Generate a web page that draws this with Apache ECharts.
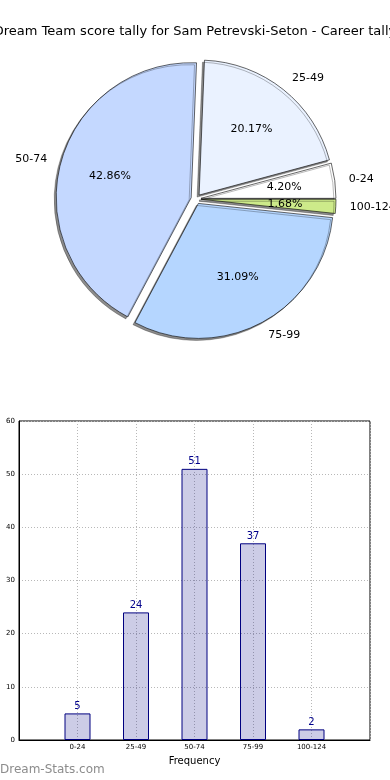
<!DOCTYPE html>
<html>
<head>
<meta charset="utf-8">
<script src="https://cdn.jsdelivr.net/npm/echarts@6/dist/echarts.min.js"></script>
<style>
html,body{margin:0;padding:0;background:#fff;}
#c{width:390px;height:780px;}
</style>
</head>
<body>
<div id="c"></div>
<script>
var titleText = 'Dream Team score tally for Sam Petrevski-Seton - Career tally';
var categories = ['0-24', '25-49', '50-74', '75-99', '100-124'];
var counts = [5, 24, 51, 37, 2];
var sliceColors = ['#ffffff', '#eaf2ff', '#c4d8ff', '#b5d6ff', '#cdea8a'];
var yTicks = [0, 10, 20, 30, 40, 50, 60];
var xAxisName = 'Frequency';
var watermark = 'Dream-Stats.com';

var total = counts.reduce(function(a, b){ return a + b; }, 0);
var R = 135;
var font = 'DejaVu Sans';

var pieData = categories.map(function(c, i){
  return {name: c, value: counts[i], selected: true, itemStyle: {color: sliceColors[i]}};
});

// padded category axis so categories sit at 1..5 of a 0..6 span
var xCats = [''].concat(categories).concat(['']);
var barData = [null].concat(counts).concat([null]);

var chart = echarts.init(document.getElementById('c'), null, {renderer: 'canvas'});
chart.setOption({
  animation: false,
  backgroundColor: '#ffffff',
  title: {
    text: titleText, left: 'center', top: 20,
    textStyle: {fontFamily: font, fontSize: 13, fontWeight: 'normal', color: '#000'}
  },
  graphic: [{
    type: 'text', left: 0, top: 764,
    style: {text: watermark, fontFamily: font, fontSize: 12, fill: '#8c8c8c'}
  }],
  grid: {left: 19, right: 20, top: 421, bottom: 40, show: true, borderColor: '#000', borderWidth: 1, backgroundColor: 'transparent'},
  xAxis: {
    type: 'category', data: xCats, boundaryGap: false,
    name: xAxisName, nameLocation: 'middle', nameGap: 16,
    nameTextStyle: {fontFamily: font, fontSize: 10, color: '#000'},
    axisLine: {lineStyle: {color: '#000'}},
    axisTick: {show: false},
    axisLabel: {fontFamily: font, fontSize: 7, color: '#000', margin: 4, interval: 0},
    splitLine: {show: true, lineStyle: {color: '#b8b8b8', type: [1, 2], width: 1}}
  },
  yAxis: {
    type: 'value', min: yTicks[0], max: yTicks[yTicks.length - 1], interval: 10,
    axisLine: {show: true, lineStyle: {color: '#000'}},
    axisTick: {show: false},
    axisLabel: {fontFamily: font, fontSize: 7, color: '#000', margin: 4},
    splitLine: {show: true, lineStyle: {color: '#b8b8b8', type: [1, 2], width: 1}}
  },
  series: [
    {
      type: 'pie',
      center: [196, 199],
      radius: [0, R],
      clockwise: false,
      startAngle: 0,
      selectedMode: 'multiple',
      selectedOffset: 5,
      avoidLabelOverlap: false,
      data: pieData,
      itemStyle: {borderColor: '#000', borderWidth: 0.6, shadowColor: 'rgba(0,0,0,0.45)', shadowBlur: 0, shadowOffsetX: -2, shadowOffsetY: 2},
      label: {show: true, position: 'outside', fontFamily: font, fontSize: 11, color: '#000', formatter: '{b}', distanceToLabelLine: 0},
      labelLine: {show: false, length: 14, length2: 0},
      emphasis: {disabled: true},
      z: 2
    },
    {
      type: 'pie',
      center: [196, 199],
      radius: [0, R * 1.2],
      clockwise: false,
      startAngle: 0,
      selectedMode: 'multiple',
      selectedOffset: 5,
      avoidLabelOverlap: false,
      silent: true,
      data: pieData.map(function(d){ return {name: d.name, value: d.value, selected: true}; }),
      itemStyle: {color: 'rgba(0,0,0,0)', borderWidth: 0},
      label: {show: true, position: 'inside', fontFamily: font, fontSize: 11, color: '#000',
        formatter: function(p){ return (p.value / total * 100).toFixed(2) + '%'; }},
      labelLine: {show: false},
      emphasis: {disabled: true},
      z: 3
    },
    {
      type: 'bar',
      data: barData,
      barWidth: 26,
      itemStyle: {color: 'rgba(0,0,128,0.2)', borderColor: '#000080', borderWidth: 1},
      label: {show: true, position: 'top', distance: 2, fontFamily: font, fontSize: 10, color: '#00008b'},
      emphasis: {disabled: true}
    }
  ]
});
</script>
</body>
</html>
